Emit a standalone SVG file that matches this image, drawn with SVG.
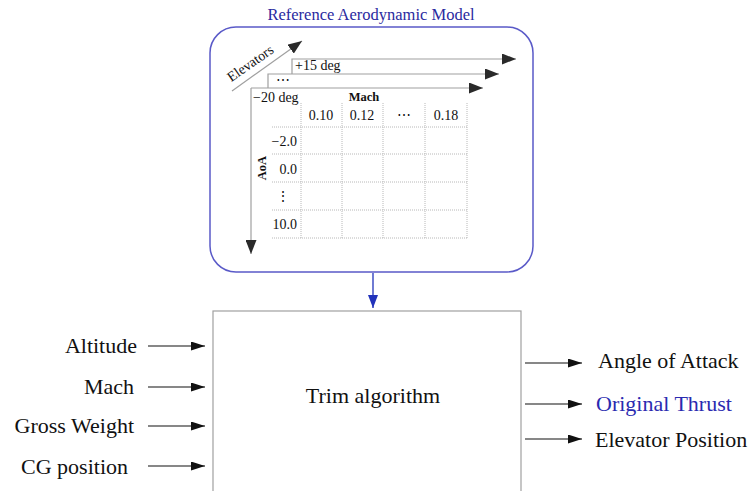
<svg xmlns="http://www.w3.org/2000/svg" width="753" height="491" viewBox="0 0 753 491">
<defs>
<style>
.t{font-family:"Liberation Serif","Times New Roman",serif;fill:#111}
.big{font-size:22px}
.sm{font-size:14px}
.b{font-weight:bold}
.gl{stroke:#a0a0a0;stroke-width:1.2;fill:none}
.dot{stroke:#b8b8b8;stroke-width:1;stroke-dasharray:1 1;fill:none}
.blk{stroke:#111;stroke-width:1.2;fill:none}
</style>
<marker id="gh" markerUnits="userSpaceOnUse" markerWidth="14" markerHeight="11" refX="14" refY="5.5" orient="auto">
<path d="M0,0 L14,5.5 L0,11 z" fill="#2a2a2a"/>
</marker>
<marker id="bh" markerUnits="userSpaceOnUse" markerWidth="14" markerHeight="9" refX="14" refY="4.5" orient="auto">
<path d="M0,0 L14,4.5 L0,9 z" fill="#111"/>
</marker>
<marker id="blh" markerUnits="userSpaceOnUse" markerWidth="13" markerHeight="10" refX="13" refY="5" orient="auto">
<path d="M0,0 L13,5 L0,10 z" fill="#2233bb"/>
</marker>
</defs>
<rect width="753" height="491" fill="#fff"/>

<g id="model">
<text class="t" x="371" y="20" text-anchor="middle" font-size="16.5" style="fill:#2a2aa0">Reference Aerodynamic Model</text>
<rect x="210" y="27" width="323" height="245" rx="26" ry="26" fill="none" stroke="#5a5ac8" stroke-width="1.5"/>
<line class="gl" x1="232" y1="91" x2="302" y2="41" marker-end="url(#gh)"/>
<text class="t" transform="translate(253,67) rotate(-35)" text-anchor="middle" font-size="14">Elevators</text>
<path class="gl" d="M292,74 V59 H516" marker-end="url(#gh)"/>
<path class="gl" d="M268,88 V74 H499" marker-end="url(#gh)"/>
<line class="gl" x1="251" y1="88" x2="483" y2="88" marker-end="url(#gh)"/>
<line class="gl" x1="251" y1="88" x2="251" y2="254" marker-end="url(#gh)"/>
<text class="t sm" x="295" y="70">+15 deg</text>
<text class="t sm" x="276" y="85">⋯</text>
<text class="t sm" x="253" y="102">−20 deg</text>
<text class="t b" x="364" y="101" font-size="12.5" text-anchor="middle">Mach</text>
<text class="t b" transform="translate(266,168) rotate(-90)" font-size="12.5" text-anchor="middle">AoA</text>
<g class="dot">
<line x1="301" y1="103" x2="301" y2="238"/>
<line x1="342" y1="103" x2="342" y2="238"/>
<line x1="383" y1="103" x2="383" y2="238"/>
<line x1="425" y1="103" x2="425" y2="238"/>
<line x1="467" y1="103" x2="467" y2="238"/>
<line x1="272" y1="127" x2="467" y2="127"/>
<line x1="272" y1="154" x2="467" y2="154"/>
<line x1="272" y1="182" x2="467" y2="182"/>
<line x1="272" y1="210" x2="467" y2="210"/>
<line x1="272" y1="238" x2="467" y2="238"/>
</g>
<g class="t sm" text-anchor="middle">
<text x="321" y="120">0.10</text>
<text x="362" y="120">0.12</text>
<text x="404" y="120">⋯</text>
<text x="446" y="120">0.18</text>
</g>
<g class="t sm" text-anchor="end">
<text x="297" y="146">−2.0</text>
<text x="297" y="174">0.0</text>
<text x="290" y="201">⋮</text>
<text x="297" y="229">10.0</text>
</g>
</g>

<g id="trim">
<rect x="213" y="311" width="308" height="190" fill="none" stroke="#a0a0a0" stroke-width="1.2"/>
<text class="t big" x="373" y="403" text-anchor="middle">Trim algorithm</text>
</g>

<g id="inputs" class="t big" text-anchor="end">
<text x="137" y="353">Altitude</text>
<text x="134" y="394">Mach</text>
<text x="134" y="433">Gross Weight</text>
<text x="128" y="474">CG position</text>
</g>

<g id="outputs" class="t big">
<text x="598" y="368">Angle of Attack</text>
<text x="596" y="411" style="fill:#2a2ab0">Original Thrust</text>
<text x="595" y="447">Elevator Position</text>
</g>

<g id="connectors">
<line x1="373" y1="273" x2="373" y2="308" stroke="#2233bb" stroke-width="1.3" marker-end="url(#blh)"/>
<line class="blk" x1="148" y1="346" x2="205" y2="346" marker-end="url(#bh)"/>
<line class="blk" x1="148" y1="387" x2="205" y2="387" marker-end="url(#bh)"/>
<line class="blk" x1="148" y1="426" x2="205" y2="426" marker-end="url(#bh)"/>
<line class="blk" x1="148" y1="466" x2="205" y2="466" marker-end="url(#bh)"/>
<line class="blk" x1="525" y1="363" x2="582" y2="363" marker-end="url(#bh)"/>
<line class="blk" x1="525" y1="404" x2="582" y2="404" marker-end="url(#bh)"/>
<line class="blk" x1="525" y1="439" x2="582" y2="439" marker-end="url(#bh)"/>
</g>
</svg>
